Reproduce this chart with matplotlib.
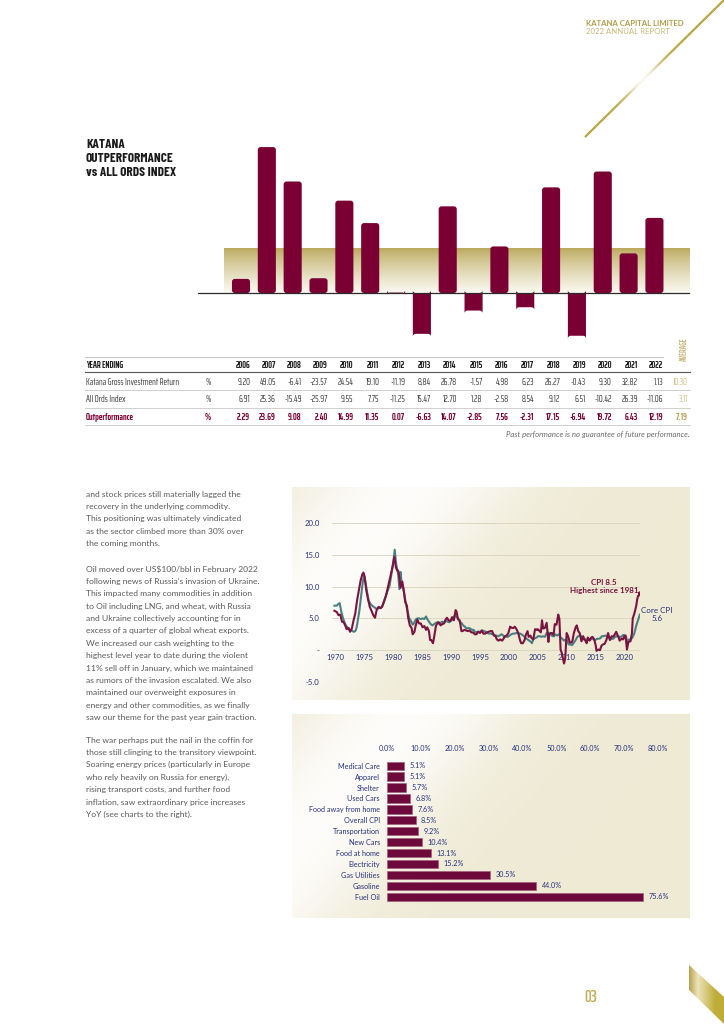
import numpy as np
import matplotlib
matplotlib.use("Agg")
import matplotlib.pyplot as plt
from matplotlib.collections import LineCollection
from matplotlib.patches import Polygon, FancyBboxPatch
from matplotlib.ticker import FuncFormatter

W, H = 724, 1024

# ---------------- data ----------------
years = list(range(2006, 2023))
katana_return = [9.20, 49.05, -6.41, -23.57, 24.54, 19.10, -11.19, 8.84, 26.78,
                 -1.57, 4.98, 6.23, 26.27, -0.43, 9.30, 32.82, 1.13]
all_ords = [6.91, 25.36, -15.49, -25.97, 9.55, 7.75, -11.25, 15.47, 12.70,
            1.28, -2.58, 8.54, 9.12, 6.51, -10.42, 26.39, -11.06]
outperformance = [2.29, 23.69, 9.08, 2.40, 14.99, 11.35, 0.07, -6.63, 14.07,
                  -2.85, 7.56, -2.31, 17.15, -6.94, 19.72, 6.43, 12.19]
# bar heights as drawn in the chart (the 2008 bar is drawn taller than its table value)
bar_heights = [2.29, 23.69, 18.1, 2.40, 14.99, 11.35, 0.07, -6.63, 14.07,
               -2.85, 7.56, -2.31, 17.15, -6.94, 19.72, 6.43, 12.19]
avg_katana, avg_ords, avg_out = 10.30, 3.11, 7.19

cpi_t = [1969.9, 1970.3, 1970.6, 1970.9, 1971.2, 1971.5, 1971.8, 1972.0, 1972.3, 1972.6,
         1972.9, 1973.2, 1973.5, 1973.8, 1974.1, 1974.4, 1974.7, 1974.9, 1975.1, 1975.4,
         1975.7, 1976.0, 1976.3, 1976.6, 1976.9, 1977.2, 1977.5, 1977.8, 1978.1, 1978.4,
         1978.7, 1978.9, 1979.2, 1979.5, 1979.8, 1980.1, 1980.25, 1980.5, 1980.7, 1980.9,
         1981.1, 1981.3, 1981.6, 1981.9, 1982.1, 1982.4, 1982.6, 1982.9, 1983.2, 1983.4,
         1983.7, 1983.9, 1984.2, 1984.5, 1984.8, 1985.1, 1985.4, 1985.7, 1985.9, 1986.2,
         1986.4, 1986.6, 1986.9, 1987.1, 1987.4, 1987.7, 1987.9, 1988.2, 1988.5, 1988.8,
         1989.0, 1989.3, 1989.6, 1989.9, 1990.2, 1990.5, 1990.8, 1990.95, 1991.2, 1991.5,
         1991.8, 1992.0, 1992.3, 1992.6, 1992.9, 1993.2, 1993.5, 1993.8, 1994.1, 1994.4,
         1994.7, 1995.0, 1995.3, 1995.6, 1995.9, 1996.2, 1996.5, 1996.8, 1997.1, 1997.4,
         1997.7, 1997.9, 1998.2, 1998.5, 1998.8, 1999.0, 1999.3, 1999.6, 1999.9, 2000.2,
         2000.5, 2000.8, 2001.0, 2001.3, 2001.6, 2001.9, 2002.1, 2002.4, 2002.7, 2002.9,
         2003.2, 2003.4, 2003.7, 2003.9, 2004.2, 2004.5, 2004.8, 2004.95, 2005.2, 2005.5,
         2005.7, 2005.9, 2006.2, 2006.5, 2006.8, 2006.95, 2007.2, 2007.4, 2007.7, 2007.9,
         2008.2, 2008.5, 2008.7, 2008.9, 2009.1, 2009.5, 2009.7, 2009.95, 2010.2, 2010.5,
         2010.8, 2010.95, 2011.2, 2011.5, 2011.7, 2011.95, 2012.2, 2012.5, 2012.8, 2012.95,
         2013.2, 2013.4, 2013.6, 2013.9, 2014.2, 2014.4, 2014.7, 2014.95, 2015.1, 2015.4,
         2015.7, 2015.95, 2016.2, 2016.5, 2016.8, 2016.95, 2017.1, 2017.4, 2017.7, 2017.95,
         2018.2, 2018.5, 2018.8, 2018.95, 2019.1, 2019.4, 2019.7, 2019.95, 2020.1, 2020.35,
         2020.6, 2020.95, 2021.2, 2021.35, 2021.5, 2021.75, 2021.95, 2022.1, 2022.25, 2022.4,
         2022.5, 2022.58]
cpi_v = [6.2, 6.0, 5.5, 5.6, 4.5, 4.4, 3.8, 3.3, 3.5, 2.9,
         3.4, 4.7, 5.8, 7.8, 9.4, 10.9, 11.9, 12.2, 11.6, 9.4,
         8.0, 6.8, 6.2, 5.5, 5.1, 6.4, 6.8, 6.6, 6.8, 7.5,
         8.3, 9.0, 10.2, 11.4, 12.6, 14.0, 14.7, 13.0, 12.6, 12.5,
         11.4, 9.8, 10.8, 9.1, 7.6, 7.0, 5.2, 3.9, 3.5, 2.5,
         2.9, 3.8, 4.8, 4.2, 4.2, 3.6, 3.8, 3.2, 3.6, 3.0,
         1.6, 1.6, 1.1, 2.1, 3.8, 4.3, 4.4, 3.9, 4.1, 4.2,
         4.7, 5.1, 4.7, 4.6, 5.2, 4.7, 6.3, 6.1, 4.9, 4.7,
         3.0, 3.0, 3.2, 3.1, 3.0, 3.1, 2.8, 2.8, 2.5, 2.5,
         2.9, 2.7, 3.1, 2.6, 2.6, 2.8, 2.9, 3.0, 3.0, 2.3,
         2.2, 1.7, 1.5, 1.7, 1.5, 1.7, 2.2, 2.3, 2.7, 3.7,
         3.5, 3.5, 3.7, 3.3, 2.7, 1.6, 1.1, 1.1, 1.6, 2.4,
         3.0, 2.1, 2.3, 1.9, 1.7, 3.3, 3.2, 3.3, 3.1, 2.8,
         4.7, 3.4, 3.5, 4.3, 1.3, 2.5, 2.7, 2.7, 2.4, 4.1,
         4.0, 5.6, 4.9, 0.1, -0.4, -2.1, -1.3, 2.7, 2.2, 1.2,
         1.2, 1.5, 2.7, 3.6, 3.9, 3.0, 2.7, 1.4, 2.2, 1.7,
         1.5, 1.1, 2.0, 1.5, 2.0, 2.1, 1.7, 0.8, -0.1, 0.1,
         0.0, 0.7, 0.9, 1.0, 1.6, 2.1, 2.7, 1.6, 2.2, 2.1,
         2.4, 2.9, 2.2, 1.9, 1.5, 1.8, 1.7, 2.3, 2.3, 0.1,
         1.3, 1.4, 2.6, 5.0, 5.4, 6.2, 7.0, 7.9, 8.5, 8.6,
         9.1, 8.8]

core_t = [1969.9, 1970.3, 1970.6, 1970.8, 1971.1, 1971.4, 1971.7, 1972.0, 1972.3, 1972.6,
          1972.9, 1973.2, 1973.5, 1973.7, 1973.9, 1974.2, 1974.5, 1974.8, 1975.0, 1975.2,
          1975.5, 1975.8, 1976.1, 1976.4, 1976.7, 1977.0, 1977.3, 1977.6, 1977.9, 1978.2,
          1978.5, 1978.8, 1979.1, 1979.4, 1979.7, 1980.0, 1980.3, 1980.5, 1980.7, 1980.9,
          1981.1, 1981.3, 1981.5, 1981.8, 1982.0, 1982.3, 1982.5, 1982.8, 1983.1, 1983.4,
          1983.6, 1983.9, 1984.2, 1984.5, 1984.8, 1985.1, 1985.4, 1985.7, 1985.9, 1986.2,
          1986.5, 1986.8, 1987.1, 1987.4, 1987.7, 1987.9, 1988.2, 1988.5, 1988.8, 1989.1,
          1989.4, 1989.7, 1990.0, 1990.3, 1990.6, 1990.9, 1991.2, 1991.5, 1991.8, 1992.1,
          1992.4, 1992.7, 1993.0, 1993.3, 1993.6, 1993.9, 1994.2, 1994.5, 1994.8, 1995.1,
          1995.4, 1995.7, 1996.0, 1996.3, 1996.6, 1996.9, 1997.2, 1997.5, 1997.8, 1998.1,
          1998.4, 1998.7, 1998.9, 1999.2, 1999.5, 1999.8, 2000.1, 2000.4, 2000.7, 2000.95,
          2001.2, 2001.5, 2001.8, 2002.0, 2002.3, 2002.6, 2002.9, 2003.2, 2003.5, 2003.8,
          2003.95, 2004.2, 2004.5, 2004.8, 2005.0, 2005.3, 2005.6, 2005.9, 2006.2, 2006.5,
          2006.8, 2006.95, 2007.2, 2007.5, 2007.8, 2008.0, 2008.3, 2008.6, 2008.9, 2009.2,
          2009.5, 2009.8, 2010.0, 2010.3, 2010.6, 2010.9, 2011.2, 2011.5, 2011.8, 2011.95,
          2012.2, 2012.5, 2012.8, 2012.95, 2013.2, 2013.5, 2013.8, 2014.0, 2014.3, 2014.6,
          2014.9, 2015.2, 2015.5, 2015.8, 2016.0, 2016.3, 2016.6, 2016.9, 2017.2, 2017.5,
          2017.8, 2018.0, 2018.3, 2018.6, 2018.9, 2019.1, 2019.4, 2019.7, 2019.95, 2020.2,
          2020.4, 2020.7, 2020.95, 2021.3, 2021.6, 2022.0, 2022.3, 2022.58]
core_v = [7.0, 7.0, 7.3, 7.4, 6.0, 5.0, 4.2, 3.7, 3.5, 3.2,
          3.1, 2.9, 3.0, 3.5, 4.5, 6.2, 8.5, 10.8, 11.6, 11.0,
          9.3, 7.8, 7.3, 7.0, 6.8, 6.6, 6.4, 6.8, 6.6, 7.0,
          7.9, 8.6, 9.4, 10.1, 11.8, 13.5, 15.8, 13.8, 12.8, 11.9,
          9.6, 12.3, 10.4, 9.6, 8.5, 6.9, 6.2, 5.0, 4.6, 4.0,
          4.2, 4.8, 5.0, 5.0, 4.9, 5.0, 4.9, 5.3, 4.9, 4.5,
          4.1, 3.9, 4.1, 4.3, 4.4, 4.2, 4.3, 4.5, 4.3, 4.6,
          4.5, 4.4, 4.6, 4.9, 5.4, 5.3, 5.0, 4.5, 4.3, 3.9,
          3.7, 3.4, 3.5, 3.4, 3.2, 3.2, 2.8, 2.9, 2.9, 2.9,
          3.1, 3.0, 2.9, 2.7, 2.6, 2.6, 2.5, 2.4, 2.3, 2.2,
          2.3, 2.5, 2.4, 2.1, 2.1, 2.1, 2.3, 2.5, 2.6, 2.6,
          2.7, 2.7, 2.6, 2.6, 2.4, 2.2, 1.9, 1.7, 1.5, 1.3,
          1.1, 1.7, 1.9, 2.0, 2.2, 2.2, 2.1, 2.2, 2.1, 2.7,
          2.8, 2.6, 2.5, 2.2, 2.2, 2.5, 2.3, 2.5, 2.0, 1.8,
          1.5, 1.7, 1.6, 0.9, 0.9, 0.8, 1.2, 1.6, 2.1, 2.2,
          2.3, 2.2, 1.9, 1.9, 1.7, 1.6, 1.7, 1.6, 1.9, 1.7,
          1.6, 1.8, 1.8, 1.9, 2.2, 2.2, 2.3, 2.2, 2.0, 1.7,
          1.8, 1.8, 2.1, 2.2, 2.2, 2.1, 2.1, 2.4, 2.3, 2.1,
          1.2, 1.7, 1.6, 2.0, 2.6, 4.0, 4.8, 5.6]

categories = ["Medical Care", "Apparel", "Shelter", "Used Cars", "Food away from home",
              "Overall CPI", "Transportation", "New Cars", "Food at home", "Electricity",
              "Gas Utilities", "Gasoline", "Fuel Oil"]
yoy_change = [5.1, 5.1, 5.7, 6.8, 7.6, 8.5, 9.2, 10.4, 13.1, 15.2, 30.5, 44.0, 75.6]

para1 = ["and stock prices still materially lagged the",
         "recovery in the underlying commodity.",
         "This positioning was ultimately vindicated",
         "as the sector climbed more than 30% over",
         "the coming months."]
para2 = ["Oil moved over US$100/bbl in February 2022",
         "following news of Russia\u2019s invasion of Ukraine.",
         "This impacted many commodities in addition",
         "to Oil including LNG, and wheat, with Russia",
         "and Ukraine collectively accounting for in",
         "excess of a quarter of global wheat exports.",
         "We increased our cash weighting to the",
         "highest level year to date during the violent",
         "11% sell off in January, which we maintained",
         "as rumors of the invasion escalated. We also",
         "maintained our overweight exposures in",
         "energy and other commodities, as we finally",
         "saw our theme for the past year gain traction."]
para3 = ["The war perhaps put the nail in the coffin for",
         "those still clinging to the transitory viewpoint.",
         "Soaring energy prices (particularly in Europe",
         "who rely heavily on Russia for energy),",
         "rising transport costs, and further food",
         "inflation, saw extraordinary price increases",
         "YoY (see charts to the right)."]

# ---------------- fonts / colours ----------------
TITLE = ['Barlow Condensed', 'DejaVu Sans']
NARROW = ['Saira ExtraCondensed', 'Barlow Condensed', 'DejaVu Sans']
BODY = ['Lato', 'DejaVu Sans']
MAROON = '#7a0034'
NAVY = '#27317c'
TEAL = '#4b8080'

fig = plt.figure(figsize=(W / 100, H / 100), dpi=100)
fig.patch.set_facecolor('white')


def px_axes(x0, y0, x1, y1, z=1):
    ax = fig.add_axes([x0 / W, 1 - y1 / H, (x1 - x0) / W, (y1 - y0) / H])
    ax.set_zorder(z)
    ax.patch.set_alpha(0)
    return ax


def ntext(x, y, s, family=NARROW, **kw):
    kw.setdefault('va', 'center')
    return page.text(x, y, s, family=family, stretch='condensed', **kw)


page = px_axes(0, 0, W, H, z=0)
page.set_xlim(0, W)
page.set_ylim(H, 0)
page.axis('off')

# header + gold diagonal
page.text(586, 23, "KATANA CAPITAL LIMITED", family=BODY, weight='bold', size=5.6,
          color='#b09c4c', va='center')
page.text(586, 31, "2022 ANNUAL REPORT", family=BODY, size=5.6,
          color='#c8b878', va='center')
n = 120
lx = np.linspace(585, 724, n)
ly = np.linspace(137, 0, n)
seg = np.stack([np.column_stack([lx[:-1], ly[:-1]]), np.column_stack([lx[1:], ly[1:]])], axis=1)
tt = np.linspace(0, 1, n - 1)
shade = np.exp(-((tt - 0.42) / 0.12) ** 2)
c0 = np.array([0.70, 0.62, 0.20])
c1 = np.array([0.98, 0.97, 0.92])
cols = c0[None, :] + (c1 - c0)[None, :] * shade[:, None]
page.add_collection(LineCollection(seg, colors=cols, linewidths=1.6))

# bottom-right ribbon
rib = Polygon([[689, 965], [724, 997], [724, 1024], [689, 990]], closed=True,
              facecolor='none', edgecolor='none')
page.add_patch(rib)
gx = np.linspace(0, 1, 200)
r = np.array([0.72, 0.63, 0.30])
lt = np.array([0.93, 0.89, 0.74])
g2 = np.array([0.75, 0.68, 0.22])
grad = np.where(gx[:, None] < 0.25,
                r + (lt - r) * (gx[:, None] / 0.25),
                lt + (g2 - lt) * np.clip((gx[:, None] - 0.25) / 0.5, 0, 1))
img = page.imshow(grad[None, :, :], extent=[689, 724, 1024, 965], aspect='auto', zorder=1)
img.set_clip_path(rib)
ntext(591, 997, "03", size=12, weight='semibold', color='#c2b060', ha='center')

# title block
for yy, s in [(144, "KATANA"), (158, "OUTPERFORMANCE"), (172, "vs ALL ORDS INDEX")]:
    ntext(86, yy, s, family=TITLE, weight='bold', size=9.5, color='#1a1a1a')

# ---------------- outperformance bar chart ----------------
STEP, X0 = 25.84, 241.0
bx = px_axes(198, 130, 692, 345, z=2)
XL = ((198 - X0) / STEP, (692 - X0) / STEP)
YL = (-(345 - 293) / 6.16, (293 - 130) / 6.16)
bx.axis('off')
idx = np.arange(len(years))
band_l, band_r = (224 - X0) / STEP, (689 - X0) / STEP
band = np.linspace(0, 1, 100)[:, None]
top_c = np.array([0.73, 0.66, 0.36])
bot_c = np.array([0.985, 0.98, 0.95])
band_img = top_c + (bot_c - top_c) * band[:, :, None] ** 0.8
bx.imshow(band_img, extent=[band_l, band_r, 0, avg_out], aspect='auto', zorder=1,
          origin='upper')
bars = bx.bar(idx, bar_heights, width=0.70, color=MAROON, zorder=3, linewidth=0)
aspect = STEP / 6.16
for b in bars:
    b.set_visible(False)
    bx.add_patch(FancyBboxPatch((b.get_x(), b.get_y()), b.get_width(), b.get_height(),
                                boxstyle="round,pad=0,rounding_size=0.11",
                                mutation_aspect=aspect, facecolor=MAROON,
                                edgecolor='none', zorder=3))
bx.plot([XL[0], band_r], [0, 0], color='#2b2b2b', lw=0.9, zorder=4)
bx.set_xlim(*XL)
bx.set_ylim(*YL)

# ---------------- table ----------------
row_y = [365, 382.5, 400, 417.5]
FS = 6.9
page.plot([85, 663], [357, 357], color='#c8c8c8', lw=0.8)
page.plot([85, 690], [372, 372], color='#555555', lw=0.8)
for yy in [390, 408, 425]:
    page.plot([85, 690], [yy, yy], color='#cfcfcf', lw=0.7)
ntext(86, row_y[0], "YEAR ENDING", weight='bold', size=FS, color='#1a1a1a')
labels = ["Katana Gross Investment Return", "All Ords Index", "Outperformance"]
series = [katana_return, all_ords, outperformance]
avgs = [avg_katana, avg_ords, avg_out]
for k in range(3):
    bold = k == 2
    col = MAROON if bold else '#3a3a3a'
    w = 'bold' if bold else 'normal'
    y = row_y[k + 1]
    ntext(86, y, labels[k], weight=w, size=FS, color=col)
    ntext(208, y, "%", weight=w, size=FS, color=col, ha='center')
    for i, v in enumerate(series[k]):
        ntext(X0 + STEP * i + 9, y, f"{v:.2f}", weight=w, size=FS, color=col, ha='right')
    ntext(688, y, f"{avgs[k]:.2f}", weight=w, size=FS,
          color='#b5a35a' if bold else '#cdbf85', ha='right')
for i, yr in enumerate(years):
    ntext(X0 + STEP * i + 9, row_y[0], str(yr), weight='bold', size=FS, color='#1a1a1a', ha='right')
ntext(684, 349, "AVERAGE", weight='bold', size=6.2, color='#c9b87a', rotation=90, ha='center')
page.text(690, 435, "Past performance is no guarantee of future performance.", family=BODY,
          style='italic', size=5.6, color='#6a6a6a', ha='right', va='center')

# ---------------- body text ----------------
for lines, y0 in [(para1, 494), (para2, 569), (para3, 740)]:
    for j, s in enumerate(lines):
        page.text(86, y0 + 12.4 * j, s, family=BODY, size=6.1, color='#5a5a5a', va='center')


# ---------------- panel backgrounds ----------------
def panel(x0, y0, x1, y1):
    ax = px_axes(x0, y0, x1, y1, z=1)
    gx, gy = np.meshgrid(np.linspace(0, 1, 300), np.linspace(0, 1, 200))
    d = (gx - 0.25) + (gy - 0.1) * 0.45
    t = np.exp(-(d / 0.28) ** 2) * 0.9
    base = np.array([0.935, 0.918, 0.835])
    im = base + (1 - base) * t[:, :, None]
    ax.imshow(im, extent=[0, 1, 0, 1], aspect='auto', origin='upper')
    ax.set_xlim(0, 1)
    ax.set_ylim(0, 1)
    ax.axis('off')
    return ax


panel(292, 487, 690, 700)
panel(292, 714, 690, 918)

# ---------------- inflation line chart ----------------
ix = px_axes(332, 523, 640, 682, z=3)
ix.set_xlim(1969.48, 2022.6)
ix.set_ylim(-5, 20)
ix.set_yticks([-5, 0, 5, 10, 15, 20])
ix.yaxis.set_major_formatter(FuncFormatter(lambda v, p: '-' if abs(v) < 1e-9 else f"{v:.1f}"))
ix.set_xticks(range(1970, 2021, 5))
ix.spines['bottom'].set_position(('data', 0))
for s in ix.spines.values():
    s.set_visible(False)
ix.tick_params(length=0, labelsize=5.6, labelcolor=NAVY, pad=9)
ix.tick_params(axis='x', pad=3)
for lab in ix.get_xticklabels() + ix.get_yticklabels():
    lab.set_family(BODY)
ix.grid(axis='y', color='#dcd7c0', lw=0.7)
ix.set_axisbelow(True)
ix.plot(core_t, core_v, color=TEAL, lw=1.5, solid_joinstyle='round')
ix.plot(cpi_t, cpi_v, color='#7b1340', lw=1.5, solid_joinstyle='round')
page.text(490, 512, "US YoY Inflation Rate % (1970 - 2022)", family=BODY, size=7.4,
          color=NAVY, ha='center', va='center', zorder=5)
ix.annotate("CPI 8.5\nHighest since 1981", xy=(2016.4, 10.0), family=BODY, weight='bold',
            size=5.8, color='#7b1340', ha='center', va='center', linespacing=1.25)
ix.annotate("Core CPI\n5.6", xy=(2025.5, 5.6), family=BODY, size=5.8, color=NAVY,
            ha='center', va='center', linespacing=1.25, annotation_clip=False)

# ---------------- YoY change bar chart ----------------
hx = px_axes(386.7, 760.2, 658, 902.2, z=3)
hx.set_xlim(0, 80)
hx.set_ylim(len(categories) - 0.5, -0.5)
hbars = hx.barh(range(len(categories)), yoy_change, height=0.76, color='#6e0a3b',
                edgecolor='#a06080', linewidth=0.5)
hx.bar_label(hbars, labels=[f"{v:.1f}%" for v in yoy_change], padding=4, size=5.2,
             color=NAVY, family=BODY)
hx.set_yticks(range(len(categories)))
hx.set_yticklabels(categories)
hx.set_xticks(range(0, 81, 10))
hx.xaxis.set_major_formatter(FuncFormatter(lambda v, p: f"{v:.1f}%"))
hx.xaxis.tick_top()
for s in hx.spines.values():
    s.set_visible(False)
hx.tick_params(length=0, labelsize=5.2, labelcolor=NAVY)
hx.tick_params(axis='y', pad=5)
hx.tick_params(axis='x', pad=6)
for lab in hx.get_xticklabels() + hx.get_yticklabels():
    lab.set_family(BODY)
page.text(490, 733, "YoY % Change (July 2022 CPI Report)", family=BODY, size=7.4,
          color=NAVY, ha='center', va='center', zorder=5)

fig.savefig("out.png", dpi=100)
